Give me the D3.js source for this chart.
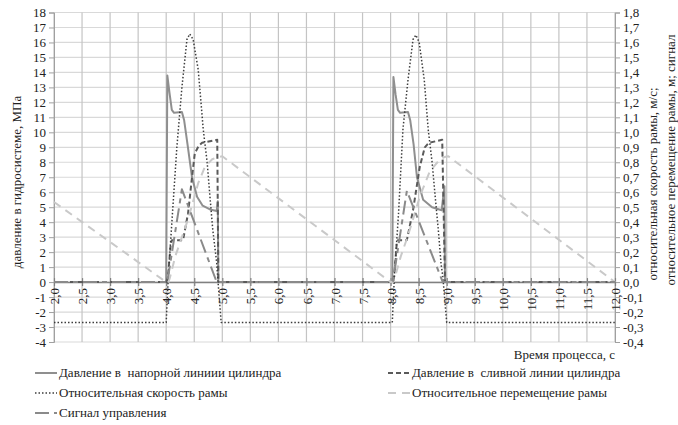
<!DOCTYPE html>
<html>
<head>
<meta charset="utf-8">
<script src="https://cdn.jsdelivr.net/npm/d3@7"></script>
<style>
  body { margin: 0; background: #fff; }
  .grid-h { stroke: #d9d9d9; stroke-width: 1.2; }
  .grid-v { stroke: #c4c4c4; stroke-width: 1.2; }
  .tick-label { font-size: 13px; fill: #222; }
  .title { font-size: 13px; fill: #222; }
  .legend { font-size: 13px; fill: #222; white-space: pre; }
</style>
</head>
<body>
<script>
const width = 678;
const height = 425;
const FONT = "'Liberation Serif', 'DejaVu Serif', serif";

// time points (s) and values, two working cycles
const supplyT = [4.0, 4.02, 4.06, 4.1, 4.14, 4.28, 4.32, 4.38, 4.46, 4.55, 4.65, 4.78, 4.9, 4.92, 4.93, 5.0,
  8.03, 8.05, 8.09, 8.13, 8.17, 8.31, 8.35, 8.41, 8.47, 8.58, 8.74, 8.91, 8.96, 8.97, 9.03];
const supplyP = [0, 13.8, 12.6, 11.5, 11.3, 11.35, 10.8, 9.2, 7.0, 5.7, 5.1, 4.85, 4.75, 5.4, 0, 0,
  0, 13.7, 12.5, 11.5, 11.3, 11.35, 10.8, 9.2, 7.0, 5.5, 5.0, 4.8, 6.4, 0, 0];

const drainT = [2.0, 4.0, 4.03, 4.08, 4.1, 4.3, 4.39, 4.46, 4.51, 4.58, 4.64, 4.91, 4.93,
  8.03, 8.06, 8.11, 8.13, 8.29, 8.4, 8.52, 8.61, 8.68, 8.92, 8.97, 12.0];
const drainP = [0, 0, 0.3, 2.5, 2.8, 2.8, 4.6, 7.0, 8.6, 9.1, 9.3, 9.5, 0,
  0, 0.3, 2.6, 2.8, 2.8, 4.8, 7.7, 9.0, 9.3, 9.5, 0, 0];

const speedT = [2.0, 4.0, 4.02, 4.04, 4.11, 4.19, 4.28, 4.37, 4.42, 4.48, 4.57, 4.62, 4.66, 4.73, 4.78, 4.83, 4.9, 4.92, 4.98,
  8.03, 8.05, 8.07, 8.14, 8.22, 8.31, 8.4, 8.45, 8.51, 8.6, 8.67, 8.74, 8.8, 8.85, 8.9, 8.93, 9.0, 12.0];
const speedV = [-0.27, -0.27, -0.1, 0.05, 0.45, 0.9, 1.3, 1.62, 1.657, 1.62, 1.42, 1.2, 1.02, 0.8, 0.57, 0.35, 0.13, 0.02, -0.27,
  -0.27, -0.1, 0.05, 0.45, 1.02, 1.35, 1.62, 1.65, 1.6, 1.35, 1.02, 0.8, 0.55, 0.35, 0.12, 0.04, -0.27, -0.27];

const moveT = [2.0, 4.0, 4.04, 4.07, 4.16, 4.28, 4.39, 4.57, 4.69, 4.82, 4.92, 5.0,
  8.0, 8.04, 8.08, 8.18, 8.3, 8.4, 8.52, 8.7, 8.88, 8.96, 9.03, 12.0];
const moveV = [0.535, 0.0, 0.0, 0.035, 0.17, 0.3, 0.42, 0.66, 0.77, 0.82, 0.835, 0.84,
  0.0, 0.0, 0.035, 0.17, 0.3, 0.42, 0.57, 0.74, 0.82, 0.835, 0.84, 0.0];

const signalT = [2.0, 4.02, 4.28, 4.9, 8.04, 8.29, 8.93, 12.0];
const signalV = [0, 0, 0.62, 0, 0, 0.61, 0, 0];

const xTicks = [2.0, 2.5, 3.0, 3.5, 4.0, 4.5, 5.0, 5.5, 6.0, 6.5, 7.0, 7.5, 8.0, 8.5, 9.0, 9.5, 10.0, 10.5, 11.0, 11.5, 12.0];
const leftTicks = [-4, -3, -2, -1, 0, 1, 2, 3, 4, 5, 6, 7, 8, 9, 10, 11, 12, 13, 14, 15, 16, 17, 18];
const rightTicks = [-0.4, -0.3, -0.2, -0.1, 0.0, 0.1, 0.2, 0.3, 0.4, 0.5, 0.6, 0.7, 0.8, 0.9, 1.0, 1.1, 1.2, 1.3, 1.4, 1.5, 1.6, 1.7, 1.8];

const seriesNames = [
  "Давление в  напорной линиии цилиндра",
  "Давление в  сливной линии цилиндра",
  "Относительная скорость рамы",
  "Относительное перемещение рамы",
  "Сигнал управления",
];

const plot = { left: 54, right: 615, top: 12.5, bottom: 342 };

const x = d3.scaleLinear().domain([2, 12]).range([plot.left, plot.right]);
const yL = d3.scaleLinear().domain([-4, 18]).range([plot.bottom, plot.top]);
const yR = d3.scaleLinear().domain([-0.4, 1.8]).range([plot.bottom, plot.top]);

const comma = (f) => (v) => f(v).replace(".", ",").replace("−", "-");
const fmt1 = comma(d3.format(".1f"));

const zip = (ts, vs) => ts.map((t, i) => [t, vs[i]]);

const series = [
  { name: seriesNames[0], data: zip(supplyT, supplyP), y: yL, color: "#8f8f8f", w: 2, dash: null },
  { name: seriesNames[1], data: zip(drainT, drainP), y: yL, color: "#5a5a5a", w: 2, dash: "5,3" },
  { name: seriesNames[2], data: zip(speedT, speedV), y: yR, color: "#3c3c3c", w: 1.5, dash: "1.5,2" },
  { name: seriesNames[3], data: zip(moveT, moveV), y: yR, color: "#c9c9c9", w: 2, dash: "8,6" },
  { name: seriesNames[4], data: zip(signalT, signalV), y: yR, color: "#8a8a8a", w: 2, dash: "14,5,5,5" },
];

function styleAxis(g) {
  g.attr("font-family", FONT).attr("font-size", 13);
  g.select(".domain").attr("stroke", "#a0a0a0");
  g.selectAll(".tick line").attr("stroke", "#a0a0a0");
  g.selectAll(".tick text").attr("class", "tick-label");
}

function drawChart() {
  const svg = d3.create("svg")
    .attr("width", width)
    .attr("height", height)
    .attr("font-family", FONT)
    .attr("viewBox", [0, 0, width, height]);

  // grid
  svg.append("g")
    .selectAll("line")
    .data(leftTicks)
    .join("line")
    .attr("class", "grid-h")
    .attr("x1", plot.left).attr("x2", plot.right)
    .attr("y1", (d) => yL(d)).attr("y2", (d) => yL(d));

  svg.append("g")
    .selectAll("line")
    .data(xTicks)
    .join("line")
    .attr("class", "grid-v")
    .attr("x1", (d) => x(d)).attr("x2", (d) => x(d))
    .attr("y1", plot.top).attr("y2", plot.bottom);

  // left axis
  const left = svg.append("g").attr("transform", `translate(${plot.left},0)`)
    .call(d3.axisLeft(yL).tickValues(leftTicks).tickSize(5).tickFormat(comma(d3.format("d"))));
  styleAxis(left);
  left.selectAll(".tick text").attr("x", -8);

  // right axis
  const right = svg.append("g").attr("transform", `translate(${plot.right},0)`)
    .call(d3.axisRight(yR).tickValues(rightTicks).tickSize(5).tickFormat(fmt1));
  styleAxis(right);
  right.selectAll(".tick text").attr("x", 8);

  // x axis through zero
  const bottom = svg.append("g").attr("transform", `translate(0,${yL(0)})`)
    .call(d3.axisBottom(x).tickValues(xTicks).tickSize(0).tickFormat(fmt1));
  styleAxis(bottom);
  bottom.select(".domain").attr("stroke", "#808080").attr("stroke-width", 1.5);
  bottom.selectAll(".tick").append("line")
    .attr("y1", -4).attr("y2", 4).attr("stroke", "#808080").attr("stroke-width", 1.2);
  bottom.selectAll(".tick text")
    .attr("transform", "rotate(-90)")
    .attr("text-anchor", "end")
    .attr("x", -6).attr("y", 0).attr("dy", "0.35em");

  // series
  const lineGen = (s) => d3.line().x((d) => x(d[0])).y((d) => s.y(d[1]));
  svg.append("g")
    .selectAll("path")
    .data(series)
    .join("path")
    .attr("fill", "none")
    .attr("stroke", (d) => d.color)
    .attr("stroke-width", (d) => d.w)
    .attr("stroke-dasharray", (d) => d.dash)
    .attr("stroke-linejoin", "round")
    .attr("d", (d) => lineGen(d)(d.data));

  // axis titles
  svg.append("text")
    .attr("class", "title")
    .attr("transform", `translate(21,182) rotate(-90)`)
    .attr("text-anchor", "middle")
    .text("давление в гидросистеме, МПа");

  svg.append("text")
    .attr("class", "title")
    .attr("transform", `translate(657,184) rotate(-90)`)
    .attr("text-anchor", "middle")
    .text("относительная скорость рамы, м/с;");

  svg.append("text")
    .attr("class", "title")
    .attr("transform", `translate(675,160) rotate(-90)`)
    .attr("text-anchor", "middle")
    .text("относительное перемещение рамы, м; сигнал");

  svg.append("text")
    .attr("class", "title")
    .attr("x", plot.right).attr("y", 359)
    .attr("text-anchor", "end")
    .text("Время процесса, с");

  // legend
  const legendPos = [
    { x: 35, y: 377 },
    { x: 388, y: 377 },
    { x: 35, y: 397 },
    { x: 388, y: 397 },
    { x: 35, y: 417 },
  ];
  const legend = svg.append("g")
    .selectAll("g")
    .data(series)
    .join("g")
    .attr("transform", (d, i) => `translate(${legendPos[i].x},${legendPos[i].y})`);
  legend.append("line")
    .attr("x1", 0).attr("x2", 22)
    .attr("y1", -4).attr("y2", -4)
    .attr("stroke", (d) => d.color)
    .attr("stroke-width", (d) => d.w)
    .attr("stroke-dasharray", (d) => d.dash);
  legend.append("text")
    .attr("class", "legend")
    .attr("x", 24)
    .text((d) => d.name);

  return svg.node();
}

document.body.appendChild(drawChart());
</script>
</body>
</html>
